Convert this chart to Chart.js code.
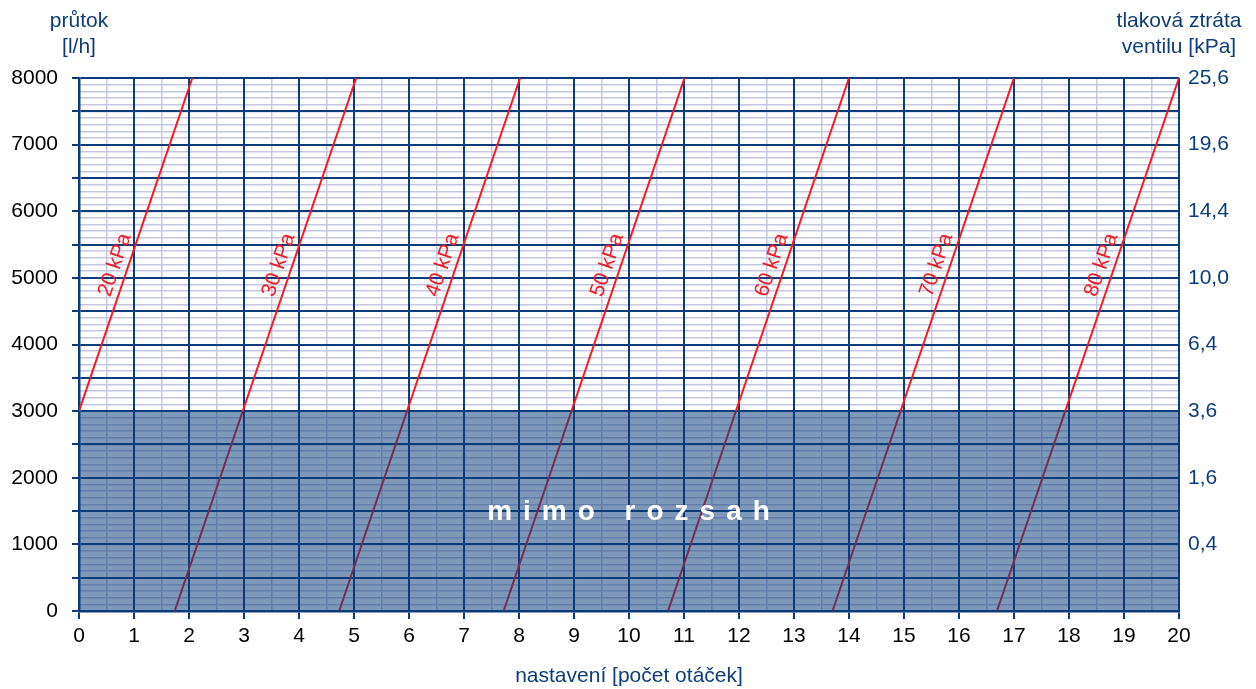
<!DOCTYPE html>
<html>
<head>
<meta charset="utf-8">
<script src="https://cdn.jsdelivr.net/npm/chart.js@4/dist/chart.umd.min.js"></script>
<style>
  html, body { margin: 0; padding: 0; background: #fff; }
  canvas { display: block; }
</style>
</head>
<body>
<canvas id="chart" width="1256" height="689"></canvas>
<script>
// values
const lineLabels = ['20 kPa', '30 kPa', '40 kPa', '50 kPa', '60 kPa', '70 kPa', '80 kPa'];
const lineStartX = [0, 1.74, 4.73, 7.72, 10.71, 13.70, 16.69];
const lineStartY = [3000, 0, 0, 0, 0, 0, 0];
const lineEndX = [2.06, 5.04, 8.02, 11.01, 14.0, 17.0, 20.0];
const lineEndY = [8000, 8000, 8000, 8000, 8000, 8000, 8000];

const leftTickLabels = ['0', '1000', '2000', '3000', '4000', '5000', '6000', '7000', '8000'];
const rightTickLabels = ['', '0,4', '1,6', '3,6', '6,4', '10,0', '14,4', '19,6', '25,6'];

const outOfRangeLimit = 3000;   // průtok below this is "mimo rozsah"
const outOfRangeText = 'mimo rozsah';
const lineLabelY = 5130;        // where the kPa labels sit along the lines

const DARK = '#0c3d7a';
const LIGHT = '#c3c7e3';
const RED = '#f21b23';
const SHADE = 'rgba(12, 61, 122, 0.53)';
const FONT = '"Liberation Sans", Arial, sans-serif';

Chart.defaults.font.family = FONT;

const overlayPlugin = {
    id: 'overlay',
    afterDatasetsDraw(chart) {
        const { ctx, chartArea: a, scales: { x, y } } = chart;
        ctx.save();

        // shaded "out of range" band
        const top = y.getPixelForValue(outOfRangeLimit);
        ctx.fillStyle = SHADE;
        ctx.fillRect(a.left, top, a.right - a.left, y.getPixelForValue(0) - top);

        ctx.fillStyle = '#fff';
        ctx.font = 'bold 28px ' + FONT;
        ctx.letterSpacing = '11px';
        ctx.textAlign = 'center';
        ctx.textBaseline = 'middle';
        ctx.fillText(outOfRangeText, x.getPixelForValue(10) + 5, y.getPixelForValue(1480));
        ctx.letterSpacing = '0px';

        // kPa labels along each line
        ctx.fillStyle = RED;
        ctx.font = '21px ' + FONT;
        lineLabels.forEach((label, i) => {
            const x0 = x.getPixelForValue(lineStartX[i]);
            const y0 = y.getPixelForValue(lineStartY[i]);
            const x1 = x.getPixelForValue(lineEndX[i]);
            const y1 = y.getPixelForValue(lineEndY[i]);
            const t = (lineLabelY - lineStartY[i]) / (lineEndY[i] - lineStartY[i]);
            ctx.save();
            ctx.translate(x0 + t * (x1 - x0), y0 + t * (y1 - y0));
            ctx.rotate(Math.atan2(y1 - y0, x1 - x0));
            ctx.fillText(label, 0, -13);
            ctx.restore();
        });
        ctx.restore();
    },
    afterDraw(chart) {
        const { ctx, chartArea: a } = chart;
        ctx.save();
        ctx.fillStyle = DARK;
        ctx.font = '21px ' + FONT;
        ctx.textAlign = 'center';
        ctx.textBaseline = 'middle';
        ctx.fillText('průtok', a.left, 21);
        ctx.fillText('[l/h]', a.left, 47);
        ctx.fillText('tlaková ztráta', a.right, 21);
        ctx.fillText('ventilu [kPa]', a.right, 47);
        ctx.restore();
    }
};

const datasets = lineLabels.map((label, i) => ({
    label: label,
    data: [
        { x: lineStartX[i], y: lineStartY[i] },
        { x: lineEndX[i], y: lineEndY[i] }
    ],
    borderColor: RED,
    borderWidth: 2,
    pointRadius: 0,
    fill: false
}));

// light grid drawn underneath the dark one
const minorScale = (pos, max, step) => ({
    type: 'linear',
    position: pos,
    min: 0,
    max: max,
    z: -1,
    afterFit: s => { if (pos === 'bottom') s.height = 0; else s.width = 0; },
    ticks: { display: false, stepSize: step, autoSkip: false },
    grid: { color: LIGHT, lineWidth: 1.5, drawTicks: false },
    border: { display: false }
});

new Chart(document.getElementById('chart'), {
    type: 'line',
    data: { datasets },
    plugins: [overlayPlugin],
    options: {
        responsive: false,
        animation: false,
        layout: { padding: { top: 78, left: 0, right: 0, bottom: 0 } },
        plugins: {
            legend: { display: false },
            tooltip: { enabled: false }
        },
        scales: {
            xMinor: minorScale('bottom', 20, 0.5),
            yMinor: minorScale('left', 8000, 100),
            x: {
                type: 'linear',
                min: 0,
                max: 20,
                afterFit: s => { s.height = 78; },
                ticks: {
                    stepSize: 1,
                    autoSkip: false,
                    maxRotation: 0,
                    padding: 5,
                    color: '#000',
                    font: { size: 21 },
                    callback: v => String(v)
                },
                grid: { color: DARK, lineWidth: 2, tickLength: 8 },
                border: { color: DARK, width: 2.5 },
                title: {
                    display: true,
                    text: 'nastavení [počet otáček]',
                    color: DARK,
                    font: { size: 21 },
                    padding: { top: 0, bottom: 0 }
                }
            },
            y: {
                position: 'left',
                min: 0,
                max: 8000,
                afterFit: s => { s.width = 79; },
                ticks: {
                    stepSize: 500,
                    autoSkip: false,
                    padding: 14,
                    color: '#000',
                    font: { size: 21 },
                    callback: v => v % 1000 === 0 ? leftTickLabels[v / 1000] : ''
                },
                grid: { color: DARK, lineWidth: 2, tickLength: 7 },
                border: { color: DARK, width: 2.5 }
            },
            y2: {
                position: 'right',
                min: 0,
                max: 8000,
                afterFit: s => { s.width = 77; },
                ticks: {
                    stepSize: 1000,
                    padding: 9,
                    color: DARK,
                    font: { size: 21 },
                    callback: v => rightTickLabels[v / 1000]
                },
                grid: { drawOnChartArea: false, drawTicks: false },
                border: { display: false }
            }
        }
    }
});
</script>
</body>
</html>
